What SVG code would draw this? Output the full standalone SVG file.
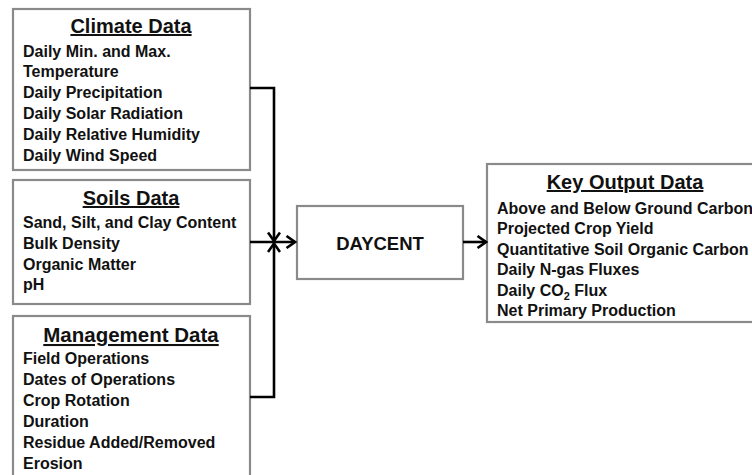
<svg xmlns="http://www.w3.org/2000/svg" width="752" height="475" viewBox="0 0 752 475">
<style>
.box{fill:#fff;stroke:#8a8a8a;stroke-width:2.2}
.t{font-family:"Liberation Sans",Arial,sans-serif;font-weight:bold;fill:#111}
.item{font-size:16px}
.title{font-size:20px;text-decoration:underline;text-anchor:middle}
.ln{fill:none;stroke:#000;stroke-width:2.6}
</style>
<defs>
<marker id="ah" markerUnits="userSpaceOnUse" markerWidth="14" markerHeight="14" viewBox="0 0 14 14" refX="12" refY="7" orient="auto">
<path d="M3.5,1 L12,7 L3.5,13" fill="none" stroke="#000" stroke-width="2.6"/>
</marker>
</defs>
<rect width="752" height="475" fill="#fff"/>
<g id="climate">
<rect class="box" x="13" y="9" width="237" height="161"/>
<text class="t title" x="131" y="33">Climate Data</text>
<text class="t item" x="23" y="56.5">Daily Min. and Max.</text>
<text class="t item" x="23" y="77.3">Temperature</text>
<text class="t item" x="23" y="98.1">Daily Precipitation</text>
<text class="t item" x="23" y="118.9">Daily Solar Radiation</text>
<text class="t item" x="23" y="139.7">Daily Relative Humidity</text>
<text class="t item" x="23" y="160.5">Daily Wind Speed</text>
</g>
<g id="soils">
<rect class="box" x="13" y="180" width="237" height="124"/>
<text class="t title" x="131" y="205">Soils Data</text>
<text class="t item" x="23" y="227.5">Sand, Silt, and Clay Content</text>
<text class="t item" x="23" y="248.5">Bulk Density</text>
<text class="t item" x="23" y="269.5">Organic Matter</text>
<text class="t item" x="23" y="289.5">pH</text>
</g>
<g id="management">
<rect class="box" x="13" y="316" width="237" height="170"/>
<text class="t title" x="131" y="342" style="font-size:20.5px">Management Data</text>
<text class="t item" x="23" y="363.5">Field Operations</text>
<text class="t item" x="23" y="384.5">Dates of Operations</text>
<text class="t item" x="23" y="405.5">Crop Rotation</text>
<text class="t item" x="23" y="426.5">Duration</text>
<text class="t item" x="23" y="447.5">Residue Added/Removed</text>
<text class="t item" x="23" y="468.5">Erosion</text>
</g>
<g id="daycent">
<rect class="box" x="297" y="206" width="166" height="73"/>
<text class="t" x="380" y="249.5" text-anchor="middle" style="font-size:18.5px">DAYCENT</text>
</g>
<g id="output">
<rect class="box" x="487" y="164" width="280" height="158"/>
<text class="t title" x="625" y="189">Key Output Data</text>
<text class="t item" x="497" y="213.5">Above and Below Ground Carbon</text>
<text class="t item" x="497" y="234">Projected Crop Yield</text>
<text class="t item" x="497" y="254.5">Quantitative Soil Organic Carbon</text>
<text class="t item" x="497" y="275">Daily N-gas Fluxes</text>
<text class="t item" x="497" y="295.5">Daily CO<tspan font-size="11" dy="4">2</tspan><tspan dy="-4"> Flux</tspan></text>
<text class="t item" x="497" y="316">Net Primary Production</text>
</g>
<g id="connectors">
<path class="ln" d="M250,88 H274 V241" marker-end="url(#ah)"/>
<path class="ln" d="M250,397 H274 V243.5" marker-end="url(#ah)"/>
<path class="ln" d="M250,242 H295" marker-end="url(#ah)"/>
<path class="ln" d="M463,242 H486" marker-end="url(#ah)"/>
</g>
</svg>
